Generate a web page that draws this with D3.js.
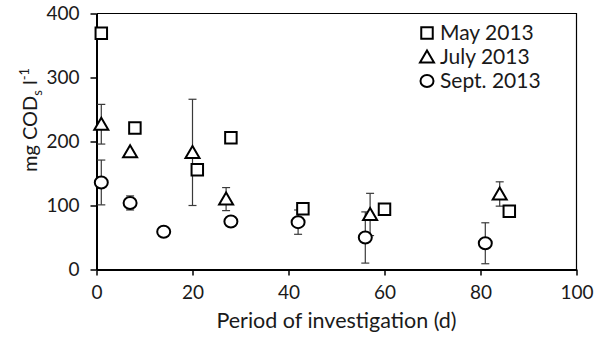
<!DOCTYPE html>
<html>
<head>
<meta charset="utf-8">
<script src="https://cdn.jsdelivr.net/npm/d3@7"></script>
<style>
  body { margin: 0; background: #fff; }
  svg { font-family: Lato, "Open Sans", sans-serif; }
</style>
</head>
<body>
<div id="chart-area"></div>
<script>
// data
const mayDays = [1, 8, 21, 28, 43, 60, 86];
const mayValues = [369, 221, 156, 206, 95, 94, 91];
const mayErrors = [0, 0, 0, 0, 0, 0, 0];

const julyDays = [1, 7, 20, 27, 57, 84];
const julyValues = [227, 184, 183, 110, 86, 118];
const julyErrors = [31, 0, 83, 18, 33, 19];

const septDays = [1, 7, 14, 28, 42, 56, 81];
const septValues = [136, 104, 59, 75, 74, 50, 41];
const septErrors = [35, 11, 4, 0, 19, 40, 32];

const xTicks = [0, 20, 40, 60, 80, 100];
const yTicks = [0, 100, 200, 300, 400];
const seriesNames = ['May 2013', 'July 2013', 'Sept. 2013'];

const margin = { top: 13.5, right: 24.5, bottom: 72.5, left: 96.5 };
const width = 601 - margin.left - margin.right;
const height = 342 - margin.top - margin.bottom;

const svg = d3.select('#chart-area')
  .append('svg')
  .attr('width', 601)
  .attr('height', 342);

const g = svg.append('g')
  .attr('transform', `translate(${margin.left}, ${margin.top})`);

const x = d3.scaleLinear().domain([0, 100]).range([0, width]);
const y = d3.scaleLinear().domain([0, 400]).range([height, 0]);

// frame (top and right)
g.append('path')
  .attr('d', `M0,0H${width}V${height}`)
  .attr('fill', 'none')
  .attr('stroke', '#000')
  .attr('stroke-width', 1.2);

const xAxis = g.append('g')
  .attr('transform', `translate(0, ${height})`)
  .call(d3.axisBottom(x).tickValues(xTicks).tickSize(6).tickSizeOuter(0));

const yAxis = g.append('g')
  .call(d3.axisLeft(y).tickValues(yTicks).tickSize(6).tickSizeOuter(0));

[xAxis, yAxis].forEach(a => {
  a.select('.domain').attr('stroke', '#000').attr('stroke-width', 2);
  a.selectAll('.tick line').attr('stroke', '#000').attr('stroke-width', 1.5);
  a.selectAll('text')
    .attr('font-size', '19px')
    .attr('font-family', 'Lato, sans-serif')
    .attr('fill', '#1a1a1a');
});
xAxis.selectAll('text').attr('dy', '0.71em').attr('y', 16);
yAxis.selectAll('text').attr('x', -17);

// X label
g.append('text')
  .attr('x', width / 2)
  .attr('y', height + 58)
  .attr('text-anchor', 'middle')
  .attr('font-size', '21.5px')
  .attr('fill', '#1a1a1a')
  .text('Period of investigation (d)');

// Y label
const yLabel = g.append('text')
  .attr('transform', `translate(${30 - margin.left}, ${120 - margin.top}) rotate(-90)`)
  .attr('text-anchor', 'middle')
  .attr('dy', '0.35em')
  .attr('font-size', '20px')
  .attr('fill', '#1a1a1a');
yLabel.append('tspan').text('mg COD');
yLabel.append('tspan').attr('font-size', '13px').attr('dy', '5').text('s');
yLabel.append('tspan').attr('dy', '-5').text(' l');
yLabel.append('tspan').attr('font-size', '13px').attr('dy', '-8').text('-1');

const series = [
  { days: mayDays, values: mayValues, errors: mayErrors, shape: 'square' },
  { days: julyDays, values: julyValues, errors: julyErrors, shape: 'triangle' },
  { days: septDays, values: septValues, errors: septErrors, shape: 'circle' }
];

function marker(sel, shape) {
  if (shape === 'circle') {
    sel.append('ellipse').attr('rx', 6.5).attr('ry', 6);
  } else if (shape === 'square') {
    sel.append('path').attr('d', d3.symbol(d3.symbolSquare, 132)());
  } else {
    sel.append('path').attr('d', 'M0,-6.5L7,5.5H-7Z');
  }
  sel.selectAll('*')
    .attr('fill', '#fff')
    .attr('stroke', '#000')
    .attr('stroke-width', 2);
}

// error bars
series.forEach(s => {
  const pts = s.days.map((d, i) => ({ d, v: s.values[i], e: s.errors[i] })).filter(p => p.e > 0);
  const eb = g.append('g').selectAll('g').data(pts).enter().append('g')
    .attr('stroke', '#3a3a3a')
    .attr('stroke-width', 1.2);
  eb.append('line')
    .attr('x1', p => x(p.d)).attr('x2', p => x(p.d))
    .attr('y1', p => y(p.v - p.e)).attr('y2', p => y(p.v + p.e));
  [-1, 1].forEach(sign => {
    eb.append('line')
      .attr('x1', p => x(p.d) - 4).attr('x2', p => x(p.d) + 4)
      .attr('y1', p => y(p.v + sign * p.e)).attr('y2', p => y(p.v + sign * p.e));
  });
});

// markers
series.forEach(s => {
  g.append('g').selectAll('g').data(s.days.map((d, i) => ({ d, v: s.values[i] })))
    .enter().append('g')
    .attr('transform', p => `translate(${x(p.d)}, ${y(p.v)})`)
    .each(function () { marker(d3.select(this), s.shape); });
});

// legend
const legend = svg.append('g').attr('transform', 'translate(427, 33)');
seriesNames.forEach((name, i) => {
  const row = legend.append('g').attr('transform', `translate(0, ${i * 24})`);
  marker(row.append('g'), series[i].shape);
  row.append('text')
    .attr('x', 13)
    .attr('dy', '0.35em')
    .attr('font-size', '21px')
    .attr('fill', '#1a1a1a')
    .text(name);
});
</script>
</body>
</html>
